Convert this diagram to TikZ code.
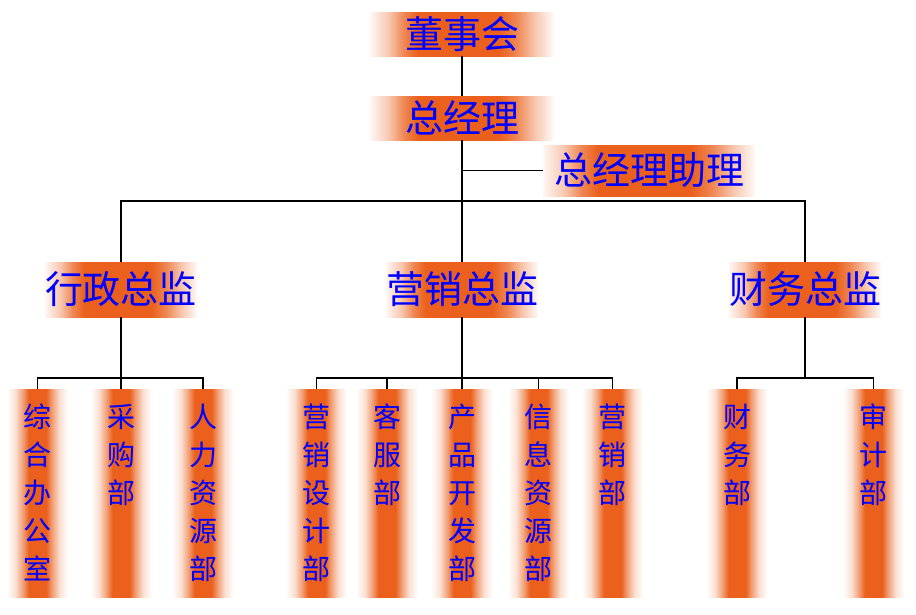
\documentclass[tikz,border=0pt]{standalone}
\usepackage{fontspec}
\newfontfamily\cjk{Noto Sans CJK SC}
\usetikzlibrary{positioning}
\definecolor{barorange}{RGB}{234,96,28}
\pgfdeclarehorizontalshading{barfade}{100bp}{color(0bp)=(white); color(25bp)=(white); color(32bp)=(barorange!20); color(38bp)=(barorange!60); color(43bp)=(barorange); color(57bp)=(barorange); color(62bp)=(barorange!60); color(68bp)=(barorange!20); color(75bp)=(white); color(100bp)=(white)}
\pgfdeclarehorizontalshading{boxfade}{100bp}{color(0bp)=(white); color(25bp)=(barorange!5); color(30bp)=(barorange!35); color(34bp)=(barorange!75); color(38bp)=(barorange); color(60bp)=(barorange); color(65bp)=(barorange!75); color(70bp)=(barorange!35); color(75bp)=(barorange!3); color(100bp)=(white)}
\begin{document}
\begin{tikzpicture}[x=1pt,y=-1pt,
    box/.style={shading=boxfade, inner sep=0pt, text=blue, font=\cjk\fontsize{38}{38}\selectfont},
    topbox/.style={box, minimum width=183pt, minimum height=44pt},
    headbox/.style={box, minimum width=152pt, minimum height=55pt},
    bar/.style={shading=barfade, inner sep=0pt, minimum width=61pt, minimum height=208pt},
    bartext/.style={inner sep=0pt, text=blue, align=center, font=\cjk\fontsize{28}{38}\selectfont}]
  \useasboundingbox (0,0) rectangle (916,614);
  \node[topbox] (dsh) at (462,34) {董事会};
  \node[topbox] (zjl) at (462,118) {总经理};
  \node[box, minimum width=212pt, minimum height=51pt] (zl) at (649,170.5) {总经理助理};
  \node[headbox] (xz) at (121,289.5) {行政总监};
  \node[headbox] (yx) at (462,289.5) {营销总监};
  \node[headbox] (cw) at (805,289.5) {财务总监};
  \coordinate (bus) at (462,201);
  \coordinate (xzbus) at (121,378);
  \coordinate (yxbus) at (462,378);
  \coordinate (cwbus) at (805,378);
  \node[bar] (zh) at (37.5,493) {};
  \node[bar] (cg) at (121,493) {};
  \node[bar] (rl) at (203,493) {};
  \node[bar] (yxsj) at (316.5,493) {};
  \node[bar] (kf) at (387,493) {};
  \node[bar] (cpkf) at (462,493) {};
  \node[bar] (xx) at (538.5,493) {};
  \node[bar] (yxb) at (612.5,493) {};
  \node[bar] (cwb) at (737,493) {};
  \node[bar] (sj) at (873.5,493) {};
  \node[bartext, below=15pt of zh.north] (zht) {综\\合\\办\\公\\室};
  \node[bartext, below=15pt of cg.north] (cgt) {采\\购\\部};
  \node[bartext, below=15pt of rl.north] (rlt) {人\\力\\资\\源\\部};
  \node[bartext, below=15pt of yxsj.north] (yxsjt) {营\\销\\设\\计\\部};
  \node[bartext, below=15pt of kf.north] (kft) {客\\服\\部};
  \node[bartext, below=15pt of cpkf.north] (cpkft) {产\\品\\开\\发\\部};
  \node[bartext, below=15pt of xx.north] (xxt) {信\\息\\资\\源\\部};
  \node[bartext, below=15pt of yxb.north] (yxbt) {营\\销\\部};
  \node[bartext, below=15pt of cwb.north] (cwbt) {财\\务\\部};
  \node[bartext, below=15pt of sj.north] (sjt) {审\\计\\部};
  \begin{scope}[line width=1.2pt]
    \draw (dsh) to (zjl);
    \draw (zjl) to (yx);
    \draw (zjl.south |- zl.west) to (zl.west);
    \draw (xz) |- (bus) -| (cw);
    \draw (xz) to (cg);
    \draw (zh) |- (xzbus) -| (rl);
    \draw (yx) to (cpkf);
    \draw (yxsj) |- (yxbus) -| (yxb);
    \draw (kf) to (kf.north |- yxbus);
    \draw (xx) to (xx.north |- yxbus);
    \draw (cw) to (cwbus);
    \draw (cwb) |- (cwbus) -| (sj);
  \end{scope}
\end{tikzpicture}
\end{document}
